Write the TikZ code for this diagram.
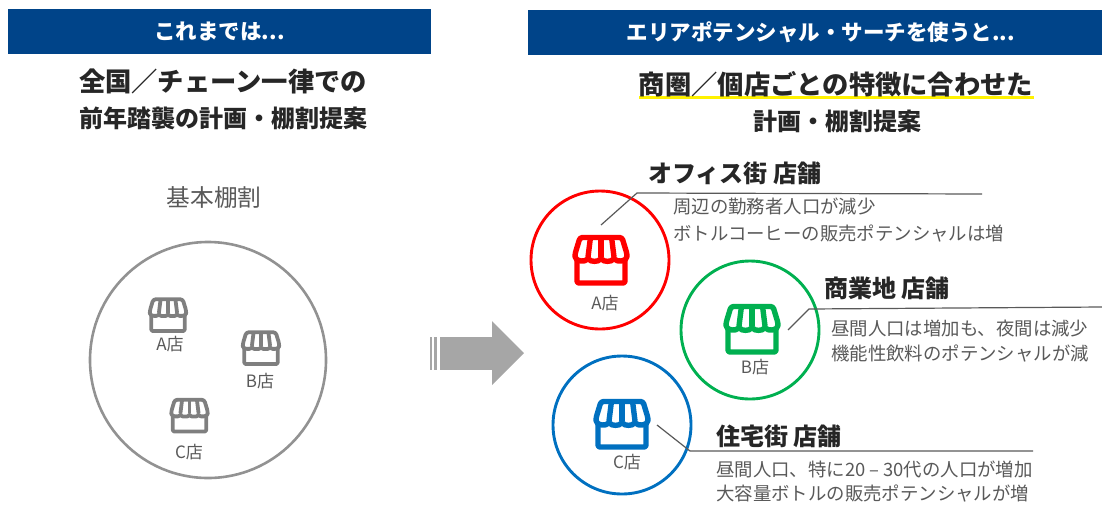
\documentclass[tikz,border=0pt]{standalone}
\usepackage{fontspec}
\setmainfont{Noto Sans CJK JP}
\definecolor{navy}{HTML}{004489}
\definecolor{ink}{HTML}{262626}
\definecolor{mid}{HTML}{595959}
\definecolor{shopgray}{HTML}{7F7F7F}
\definecolor{arrowgray}{HTML}{A6A6A6}
\definecolor{rd}{HTML}{FF0000}
\definecolor{gr}{HTML}{00B050}
\definecolor{bl}{HTML}{0070C0}
\tikzset{
 x=1pt,y=-1pt,
 banner/.style={fill=navy,draw=none,text=white,font=\bfseries\fontsize{21.5}{21.5}\selectfont,align=center,inner sep=0},
 big/.style={text=ink,font=\bfseries\fontsize{26.3}{26.3}\selectfont,inner sep=0},
 sub/.style={text=ink,font=\bfseries\fontsize{24}{24}\selectfont,inner sep=0},
 head/.style={text=ink,font=\bfseries\fontsize{24}{24}\selectfont,inner sep=0,anchor=west},
 desc/.style={text=mid,font=\fontsize{18.4}{18.4}\selectfont,inner sep=0,anchor=west},
 shoplab/.style={text=mid,font=\fontsize{17}{17}\selectfont,inner sep=0},
 ring/.style={draw=#1,line width=2.9pt,circle,inner sep=0,fill=none},
 leader/.style={draw=mid,line width=1.2pt},
}
% #1 centre, #2 scale, #3 colour
\newcommand{\shop}[3]{%
 \begin{scope}[shift={#1},scale=#2]
  \draw[#3,line width=#2*5.4pt,line join=round,rounded corners=2pt] (-24,-5) rectangle (24,23);
  \draw[#3,fill=white,line width=#2*5.4pt,line join=round,rounded corners=2.5pt]
    (-21,-22.5) -- (21,-22.5) -- (26,-6)
    .. controls (26,2) and (15,2) .. (13,-3)
    .. controls (11,2) and (2,2) .. (0,-3)
    .. controls (-2,2) and (-11,2) .. (-13,-3)
    .. controls (-15,2) and (-26,2) .. (-26,-6) -- cycle;
  \foreach \a/\b in {-10.5/-13,0/0,10.5/13}
    \draw[#3,line width=#2*5.4pt] (\a,-23) -- (\b,-3);
 \end{scope}}
\begin{document}
\begin{tikzpicture}
\useasboundingbox (0,0) rectangle (1102,504);
% left panel
\node[banner,minimum width=423,minimum height=45] (bannerL) at (219.5,31) {これまでは...};
\node[big] (titleL) at (223,81) {全国／チェーン一律での};
\node[sub] (subL) at (223,118) {前年踏襲の計画・棚割提案};
\node[text=mid,font=\fontsize{23.7}{23.7}\selectfont,inner sep=0] (kihon) at (214,198) {基本棚割};
\node[draw=shopgray!85,line width=2.6pt,circle,minimum size=236,inner sep=0] (bigring) at (208,360) {};
\shop{(168,315)}{0.7}{shopgray}
\shop{(261,348)}{0.7}{shopgray}
\shop{(189.5,415.5)}{0.7}{shopgray}
\node[shoplab] (la) at (170,344) {A店};
\node[shoplab] (lb) at (260,381) {B店};
\node[shoplab] (lc) at (189,452) {C店};
% arrow
\fill[arrowgray] (440,337) rectangle (492,370);
\fill[arrowgray] (492,321) -- (524,353) -- (492,385) -- cycle;
\fill[arrowgray] (430,337) rectangle (432,370);
\fill[arrowgray] (434,337) rectangle (437,370);
% right panel
\node[banner,minimum width=574,minimum height=45] (bannerR) at (815,32) {\hspace*{12pt}エリアポテンシャル・サーチを使うと...};
\fill[yellow] (639,96) rectangle (1034,99);
\node[big] (titleR) at (836,84) {商圏／個店ごとの特徴に合わせた};
\node[sub] (subR) at (837,121) {計画・棚割提案};
% A
\node[ring=rd,minimum size=138] (ca) at (600,260) {};
\shop{(601,260)}{1}{rd}
\node[shoplab] (sa) at (605,303) {A店};
\node[head] (ha) at (648,173) {オフィス街 店舗};
\coordinate (a1) at (601,225);
\coordinate (a2) at (637,193);
\coordinate (a3) at (982,194);
\draw[leader] (a1) -- (a2) -- (a3);
\node[desc] (da1) at (673,207) {周辺の勤務者人口が減少};
\node[desc] (da2) at (673,234) {ボトルコーヒーの販売ポテンシャルは増};
% B
\node[ring=gr,minimum size=138] (cb) at (750,330) {};
\shop{(752,329)}{1}{gr}
\node[shoplab] (sb) at (755,367) {B店};
\node[head] (hb) at (824,288) {商業地 店舗};
\coordinate (b1) at (788,330);
\coordinate (b2) at (809,309);
\coordinate (b3) at (1102,307);
\draw[leader] (b1) -- (b2) -- (b3);
\node[desc] (db1) at (831,328) {昼間人口は増加も、夜間は減少};
\node[desc] (db2) at (831,354) {機能性飲料のポテンシャルが減};
% C
\node[ring=bl,minimum size=138] (cc) at (622,425) {};
\shop{(622,424)}{1}{bl}
\node[shoplab] (sc) at (627,462) {C店};
\node[head] (hc) at (716,436) {住宅街 店舗};
\coordinate (c1) at (657,425);
\coordinate (c2) at (690,451);
\coordinate (c3) at (1033,451);
\draw[leader] (c1) -- (c2) -- (c3);
\node[desc] (dc1) at (716,469) {昼間人口、特に20 – 30代の人口が増加};
\node[desc] (dc2) at (716,494) {大容量ボトルの販売ポテンシャルが増};
\end{tikzpicture}
\end{document}
